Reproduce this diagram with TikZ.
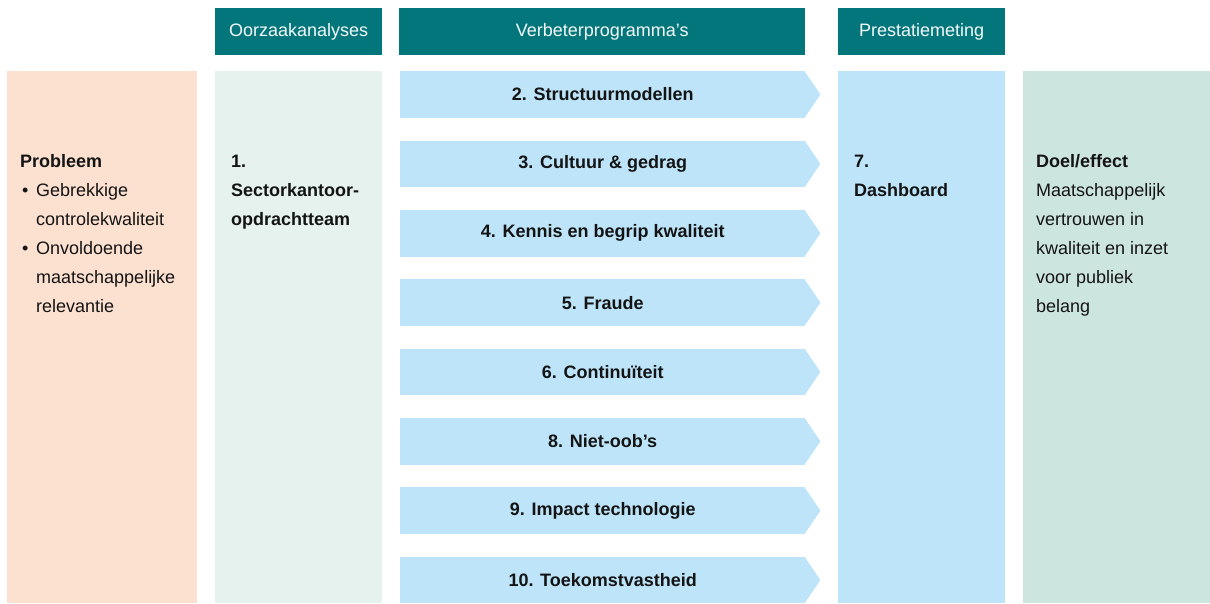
\documentclass[tikz,border=0pt]{standalone}
\usepackage{fontspec}
\setmainfont{Liberation Sans}
\usepackage{xcolor}
\definecolor{kopteal}{HTML}{03767C}
\definecolor{probpeach}{HTML}{FCE0D0}
\definecolor{oorzmint}{HTML}{E5F2EE}
\definecolor{progblue}{HTML}{BDE4F9}
\definecolor{doelgreen}{HTML}{CDE5DF}
\definecolor{tekst}{HTML}{141414}

\begin{document}
\begin{tikzpicture}[x=1pt,y=-1pt,
    kop/.style={fill=kopteal,text=white!96!kopteal,anchor=north west,inner sep=0,minimum height=46.5pt,font=\fontsize{18}{22}\selectfont},
    kolom/.style={anchor=north west,inner sep=0,minimum height=532pt},
    prog/.style={fill=progblue,anchor=north west,inner sep=0,minimum width=405pt,minimum height=46.6pt,text=tekst,font=\fontsize{18}{22}\selectfont\bfseries},
    koltekst/.style={anchor=base west,inner sep=0,align=left,text=tekst,font=\fontsize{18}{29}\selectfont}]
    \useasboundingbox (0,0) rectangle (1210,603);
    \node[kop,minimum width=167pt] (oorzkop) at (215,8) {Oorzaakanalyses};
    \node[kop,minimum width=406pt] (progkop) at (399,8) {Verbeterprogramma’s};
    \node[kop,minimum width=167pt] (meetkop) at (838,8) {Prestatiemeting};
    \node[kolom,fill=probpeach,minimum width=190pt] (prob) at (7,71) {};
    \node[kolom,fill=oorzmint,minimum width=167pt] (oorz) at (215,71) {};
    \node[kolom,fill=progblue,minimum width=167pt] (meet) at (838,71) {};
    \node[kolom,fill=doelgreen,minimum width=187pt] (doel) at (1023,71) {};
    \foreach \lbl [count=\i from 0] in {2. Structuurmodellen,3. Cultuur \& gedrag,4. Kennis en begrip kwaliteit,5. Fraude,6. Continuïteit,8. Niet-oob’s,9. Impact technologie,10. Toekomstvastheid} {
        \node[prog] (p\i) at (400,{71+\i*69.36}) {\lbl};
        \fill[progblue] ([xshift=-1pt]p\i.north east) -- ([xshift=15pt]p\i.east) -- ([xshift=-1pt]p\i.south east) -- cycle;
    }
    \node[koltekst] (probtekst) at (20,312) {\textbf{Probleem}\\
        \hspace*{2pt}\makebox[14pt][l]{\textbullet}Gebrekkige\\
        \hspace*{16pt}controlekwaliteit\\
        \hspace*{2pt}\makebox[14pt][l]{\textbullet}Onvoldoende\\
        \hspace*{16pt}maatschappelijke\\
        \hspace*{16pt}relevantie};
    \node[koltekst,font=\fontsize{18}{29}\selectfont\bfseries] (oorztekst) at (231,225) {1.\\Sectorkantoor-\\opdrachtteam};
    \node[koltekst,font=\fontsize{18}{29}\selectfont\bfseries] (meettekst) at (854,196) {7.\\Dashboard};
    \node[koltekst] (doeltekst) at (1036,312) {\textbf{Doel/effect}\\Maatschappelijk\\vertrouwen in\\kwaliteit en inzet\\voor publiek\\belang};
\end{tikzpicture}
\end{document}
